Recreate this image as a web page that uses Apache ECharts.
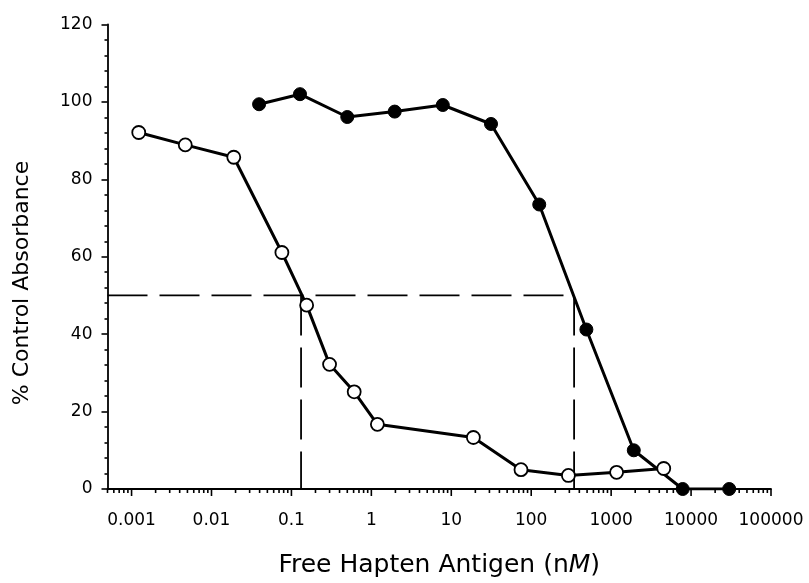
<!DOCTYPE html>
<html>
<head>
<meta charset="utf-8">
<script src="https://cdn.jsdelivr.net/npm/echarts@6/dist/echarts.min.js"></script>
<style>
html,body{margin:0;padding:0;background:#fff;}
#chart{width:809px;height:583px;}
</style>
</head>
<body>
<div id="chart"></div>
<script>
// ---- data ----
const openX = [0.00123, 0.0047, 0.019, 0.076, 0.155, 0.30, 0.61, 1.19, 18.9, 74.5, 292, 1170, 4550];
const openY = [92.1, 88.9, 85.7, 61.1, 47.5, 32.2, 25.1, 16.7, 13.3, 5.0, 3.5, 4.3, 5.3];
const filledX = [0.0394, 0.128, 0.50, 1.96, 7.83, 31.4, 126, 490, 1920, 7850, 30000];
const filledY = [99.4, 102.0, 96.1, 97.5, 99.2, 94.3, 73.5, 41.2, 10.0, 0, 0];
const halfLevel = 50;
const ic50Open = 0.132;
const ic50Filled = 344;
const xMin = 0.0005, xMax = 100000;
const majorTicks = [0.001, 0.01, 0.1, 1, 10, 100, 1000, 10000, 100000];
const minorMultipliers = [2, 3, 4, 5, 6, 7, 8, 9];
const yTicks = [0, 20, 40, 60, 80, 100, 120];

const FONT = 'DejaVu Sans';

// x-axis tick marks (log-distributed), drawn via the axis scale
const tickData = [];
[0.0001].concat(majorTicks).forEach(function (d) {
  if (d >= xMin && d <= xMax) tickData.push([d, 1]);
  minorMultipliers.forEach(function (m) {
    const v = +(m * d).toPrecision(3);
    if (v >= xMin && v <= xMax && v < d * 10) tickData.push([v, 0]);
  });
});

const pair = (xs, ys) => xs.map((x, i) => [x, ys[i]]);

const chart = echarts.init(document.getElementById('chart'), null, {renderer: 'canvas'});
chart.setOption({
  animation: false,
  backgroundColor: '#fff',
  grid: {left: 107.5, right: 38, top: 24.5, bottom: 92.5, containLabel: false},
  xAxis: {
    type: 'log', logBase: 10, min: xMin, max: xMax, splitNumber: 10,
    axisLine: {lineStyle: {color: '#000', width: 1.8}},
    axisTick: {show: false},
    splitLine: {show: false},
    axisLabel: {
      color: '#000', fontFamily: FONT, fontSize: 17, margin: 23,
      formatter: function (v) {
        const l = Math.log10(v);
        if (Math.abs(l - Math.round(l)) > 1e-6) return '';
        const n = Math.round(l);
        return n < 0 ? Math.pow(10, n).toFixed(-n) : String(Math.round(Math.pow(10, n)));
      }
    },
    name: 'Free Hapten Antigen (n{i|M})',
    nameLocation: 'middle', nameGap: 64,
    nameTextStyle: {
      color: '#000', fontFamily: FONT, fontSize: 25,
      rich: {i: {fontStyle: 'italic', fontFamily: FONT, fontSize: 25, color: '#000'}}
    }
  },
  yAxis: {
    type: 'value', min: 0, max: 120, interval: 20,
    axisLine: {show: true, lineStyle: {color: '#000', width: 1.8}},
    axisTick: {show: true, length: 6, lineStyle: {color: '#000', width: 1.6}},
    minorTick: {show: true, splitNumber: 5, length: 3, lineStyle: {color: '#000', width: 1.6}},
    splitLine: {show: false},
    axisLabel: {color: '#000', fontFamily: FONT, fontSize: 17, margin: 15}
  },
  graphic: [{
    type: 'text', x: 22, y: 283, rotation: Math.PI / 2,
    style: {text: '% Control Absorbance', fill: '#000', font: '22px "DejaVu Sans"', textAlign: 'center', textVerticalAlign: 'middle'}
  }],
  series: [
    {
      type: 'custom', silent: true, clip: false, z: 1,
      data: tickData,
      renderItem: function (params, api) {
        const p = api.coord([api.value(0), 0]);
        const len = api.value(1) ? 7 : 4;
        return {type: 'line', shape: {x1: p[0], y1: p[1], x2: p[0], y2: p[1] + len},
                style: {stroke: '#000', lineWidth: 1.6}};
      }
    },
    {
      type: 'line', z: 2, symbol: 'none', silent: true,
      data: [[xMin, halfLevel], [ic50Filled, halfLevel]],
      lineStyle: {color: '#000', width: 1.8, type: [40, 12]}
    },
    {
      type: 'line', z: 2, symbol: 'none', silent: true,
      data: [[ic50Open, halfLevel], [ic50Open, 0]],
      lineStyle: {color: '#000', width: 1.8, type: [40, 12]}
    },
    {
      type: 'line', z: 2, symbol: 'none', silent: true,
      data: [[ic50Filled, halfLevel], [ic50Filled, 0]],
      lineStyle: {color: '#000', width: 1.8, type: [40, 12]}
    },
    {
      type: 'line', z: 3, name: 'filled',
      data: pair(filledX, filledY),
      symbol: 'circle', symbolSize: 13,
      lineStyle: {color: '#000', width: 3},
      itemStyle: {color: '#000', borderColor: '#000', borderWidth: 1}
    },
    {
      type: 'line', z: 4, name: 'open',
      data: pair(openX, openY),
      symbol: 'circle', symbolSize: 13,
      lineStyle: {color: '#000', width: 3},
      itemStyle: {color: '#fff', borderColor: '#000', borderWidth: 1.8}
    }
  ]
});
</script>
</body>
</html>
